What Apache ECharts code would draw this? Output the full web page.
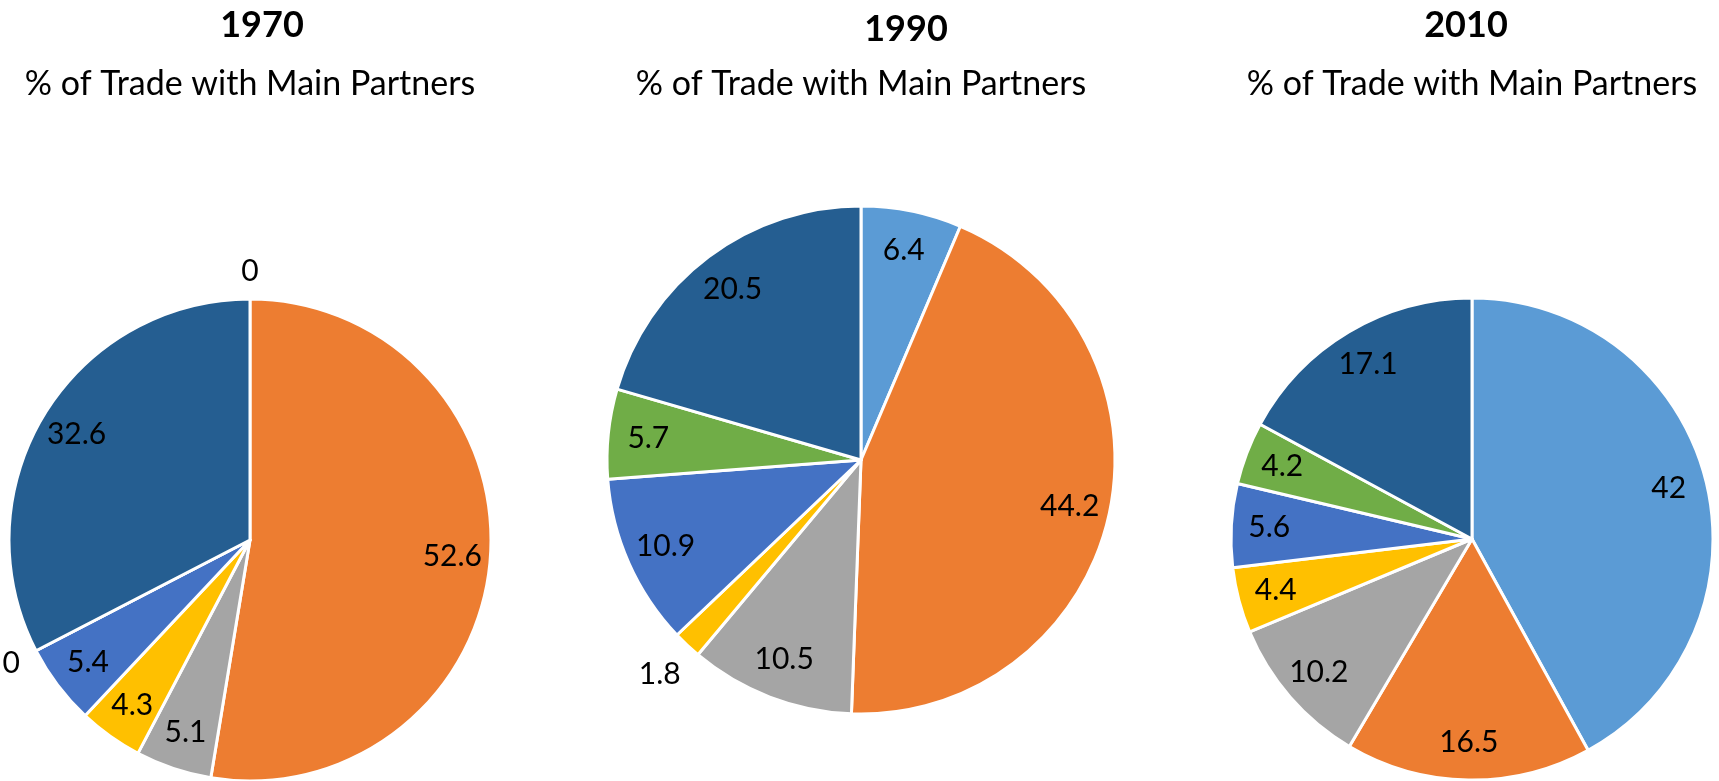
<!DOCTYPE html>
<html>
<head>
<meta charset="utf-8">
<script src="https://cdn.jsdelivr.net/npm/echarts@6/dist/echarts.min.js"></script>
<style>
  html, body { margin: 0; padding: 0; background: #fff; }
  #main { width: 1719px; height: 781px; }
</style>
</head>
<body>
<div id="main"></div>
<script>
// data, slice order clockwise from 12 o'clock
var partners = ['Partner 1', 'Partner 2', 'Partner 3', 'Partner 4', 'Partner 5', 'Partner 6', 'Partner 7'];
var years = ['1970', '1990', '2010'];
var values1970 = [0, 52.6, 5.1, 4.3, 5.4, 0, 32.6];
var values1990 = [6.4, 44.2, 10.5, 1.8, 10.9, 5.7, 20.5];
var values2010 = [42, 16.5, 10.2, 4.4, 5.6, 4.2, 17.1];
var subtitle = '% of Trade with Main Partners';

var colors = ['#5B9BD5', '#ED7D31', '#A5A5A5', '#FFC000', '#4472C4', '#70AD47', '#255E91'];
var font = 'Lato, Carlito, "Noto Sans", sans-serif';

// pie layout (px)
var pies = [
    { values: values1970, center: [250, 540], r: 241, gap: 25, titleX: 262, titleTop: 7 },
    { values: values1990, center: [861, 460], r: 254, gap: 37, titleX: 906, titleTop: 11 },
    { values: values2010, center: [1472, 539], r: 241, gap: 25, titleX: 1466, titleTop: 7 }
];

function toData(values, showFn) {
    return values.map(function (v, i) {
        var item = { name: partners[i], value: v };
        if (showFn) item.label = { show: showFn(v) };
        return item;
    });
}

var labelStyle = {
    position: 'inside',
    formatter: '{c}',
    fontFamily: font,
    fontSize: 30,
    color: '#000'
};

var titles = [];
var series = [];
pies.forEach(function (p, k) {
    titles.push({
        text: years[k], left: p.titleX, top: p.titleTop, textAlign: 'center', padding: 0,
        textStyle: { fontFamily: font, fontSize: 36, fontWeight: 'bold', color: '#000' }
    });
    titles.push({
        text: subtitle, left: p.center[0], top: 67, textAlign: 'center', padding: 0,
        textStyle: { fontFamily: font, fontSize: 34, fontWeight: 'normal', color: '#000' }
    });
    // the pie itself
    series.push({
        type: 'pie',
        center: p.center,
        radius: [0, p.r],
        startAngle: 90,
        clockwise: true,
        silent: true,
        label: { show: false },
        labelLine: { show: false },
        itemStyle: { borderColor: '#fff', borderWidth: 3 },
        data: toData(p.values)
    });
    // labels inside the slices
    series.push({
        type: 'pie',
        center: p.center,
        radius: [p.r * 0.66, p.r],
        startAngle: 90,
        silent: true,
        itemStyle: { color: 'transparent', borderWidth: 0 },
        label: labelStyle,
        labelLine: { show: false },
        labelLayout: { hideOverlap: false },
        data: toData(p.values, function (v) { return v >= 3; })
    });
    // labels for tiny slices, outside the pie
    series.push({
        type: 'pie',
        center: p.center,
        radius: [p.r, p.r + 2 * p.gap],
        startAngle: 90,
        silent: true,
        itemStyle: { color: 'transparent', borderWidth: 0 },
        label: labelStyle,
        labelLine: { show: false },
        labelLayout: { hideOverlap: false },
        data: toData(p.values, function (v) { return v < 3; })
    });
});

var myChart = echarts.init(document.getElementById('main'));
myChart.setOption({
    animation: false,
    color: colors,
    title: titles,
    tooltip: { show: false },
    series: series
});
</script>
</body>
</html>
